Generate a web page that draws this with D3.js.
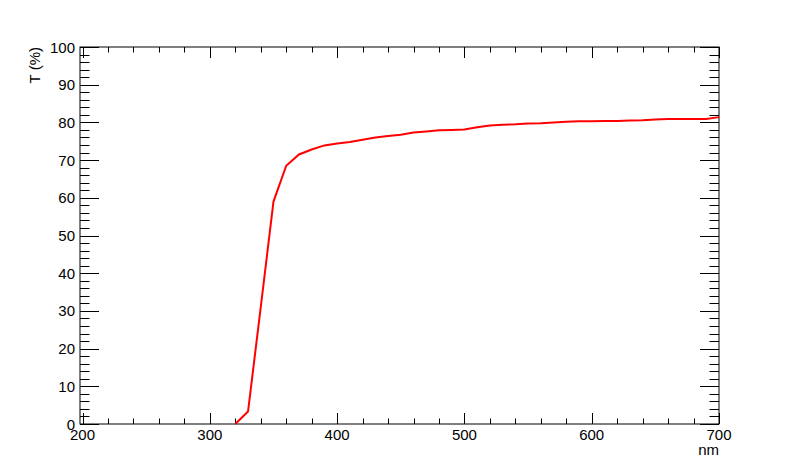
<!DOCTYPE html>
<html><head><meta charset="utf-8">
<script src="https://cdn.jsdelivr.net/npm/d3@7"></script>
<style>body{margin:0;background:#fff}svg{display:block}text{font-family:"Liberation Sans",Arial,sans-serif}</style>
</head><body><svg id="c" width="800" height="472"></svg>
<script>
const wavelength = [320,330,340,350,360,370,380,390,400,410,420,430,440,450,460,470,480,490,500,510,520,530,540,550,560,570,580,590,600,610,620,630,640,650,660,670,680,690,700];
const transmission = [0,3.3,31,59,68.5,71.5,72.8,73.9,74.4,74.8,75.4,76.0,76.4,76.7,77.3,77.6,77.9,78.0,78.1,78.7,79.2,79.4,79.5,79.7,79.8,80.0,80.2,80.3,80.3,80.4,80.4,80.5,80.6,80.8,80.9,80.9,80.9,80.9,81.4];
const xTicks = [200,300,400,500,600,700];
const yTicks = [0,10,20,30,40,50,60,70,80,90,100];
const xTitle = "nm", yTitle = "T (%)";

const svg = d3.select("#c");
const L=80,R=719,T=47,B=424;
const x = d3.scaleLinear().domain([198,700]).range([L,R]);
const y = d3.scaleLinear().domain([0,100]).range([B,T]);
const fs = 15;

svg.append("rect").attr("x",L).attr("y",T).attr("width",R-L).attr("height",B-T)
  .attr("fill","none").attr("stroke","#000").attr("stroke-width",1);

const xMinor = d3.range(200,701,20);
const yMinor = d3.range(0,101,2);
// x ticks bottom & top
xMinor.forEach(v=>{
  const major = v%100===0, len = major?11:5.5, px=Math.round(x(v))+0.5;
  svg.append("line").attr("x1",px).attr("x2",px).attr("y1",B).attr("y2",B-len).attr("stroke","#000");
  svg.append("line").attr("x1",px).attr("x2",px).attr("y1",T).attr("y2",T+len).attr("stroke","#000");
});
yMinor.forEach(v=>{
  const major = v%10===0, len = major?19:9.5, py=Math.round(y(v))+0.5;
  svg.append("line").attr("x1",L).attr("x2",L+len).attr("y1",py).attr("y2",py).attr("stroke","#000");
  svg.append("line").attr("x1",R).attr("x2",R-len).attr("y1",py).attr("y2",py).attr("stroke","#000");
});
xTicks.forEach(v=>{
  svg.append("text").attr("x",x(v)).attr("y",B+16).attr("text-anchor","middle").attr("font-size",fs).text(v);
});
yTicks.forEach(v=>{
  svg.append("text").attr("x",L-5).attr("y",y(v)+5.5).attr("text-anchor","end").attr("font-size",fs).text(v);
});
svg.append("text").attr("x",R).attr("y",455).attr("text-anchor","end").attr("font-size",fs).text(xTitle);
svg.append("text").attr("transform",`translate(40,${T}) rotate(-90)`).attr("text-anchor","end").attr("font-size",fs).text(yTitle);

const line = d3.line().x((d,i)=>x(wavelength[i])).y(d=>y(d));
svg.append("path").datum(transmission).attr("d",line).attr("fill","none").attr("stroke","#ff0000").attr("stroke-width",2);
</script></body></html>
